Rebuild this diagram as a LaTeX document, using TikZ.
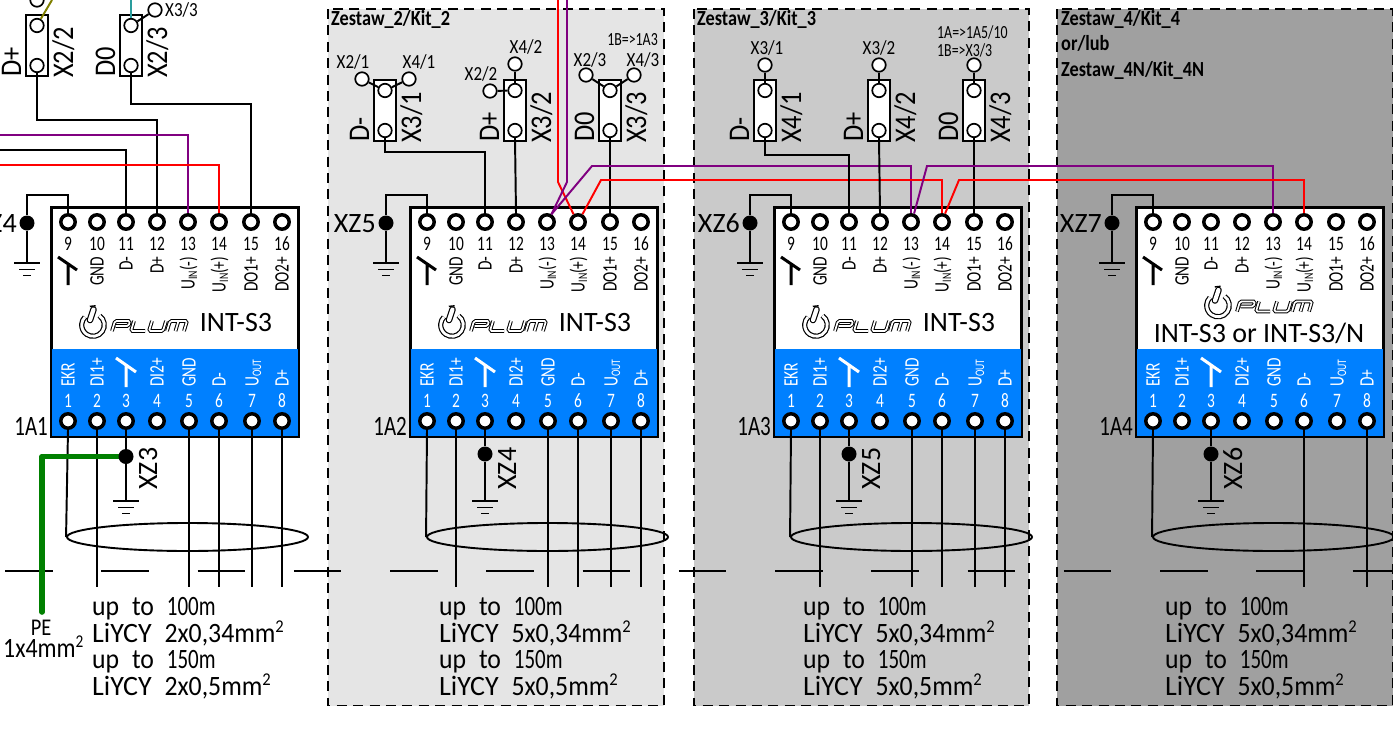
\documentclass[tikz,border=0pt]{standalone}
\usepackage{fontspec}
\setmainfont{Carlito}
\newfontfamily\nf[FakeStretch=.75]{Carlito}
\newfontfamily\mf[FakeStretch=.85]{Carlito}
\newfontfamily\jf[FakeStretch=.88]{Carlito}
\newfontfamily\tf[FakeStretch=.92,WordSpace=2.2]{Carlito}
\usetikzlibrary{shapes.geometric,calc}
\definecolor{mblue}{HTML}{0080FF}
\definecolor{mpur}{HTML}{800080}
\definecolor{mgreen}{HTML}{008000}
\definecolor{molive}{HTML}{808000}
\definecolor{mteal}{HTML}{2A9D9D}
\newcommand\subt[1]{\raisebox{-2.5pt}{\fontsize{13}{13}\selectfont #1}}
\newcommand\sqrd{\smash{\raisebox{9.5pt}{\fontsize{18}{18}\selectfont 2}}}
\tikzset{
 wire/.style={line width=1.95pt,line join=miter},
 redw/.style={wire,red},
 purw/.style={wire,mpur},
 panel/.style={line width=1.9pt,dash pattern=on 10pt off 6.4pt},
 pin/.style={circle,draw,line width=3.5pt,fill=white,minimum size=14.4pt,inner sep=0pt},
 sc/.style={circle,draw,line width=1.7pt,fill=white,minimum size=13.5pt,inner sep=0pt},
 dotn/.style={circle,fill=black,minimum size=15pt,inner sep=0pt},
 jbox/.style={draw,line width=1.8pt,fill=white,minimum width=22pt,minimum height=61pt,inner sep=0pt},
 modbox/.style={draw,line width=1.9pt,fill=white,minimum width=246pt,minimum height=228pt,inner sep=0pt},
 shield/.style={ellipse,draw,line width=1.9pt,minimum width=241pt,minimum height=28pt,inner sep=0pt},
 lab/.style={inner sep=0pt,font=\nf\fontsize{20.5}{20.5}\selectfont},
 smalllab/.style={inner sep=0pt,font=\mf\fontsize{20}{20}\selectfont},
 tinylab/.style={inner sep=0pt,font=\nf\fontsize{18.5}{18.5}\selectfont},
 biglab/.style={inner sep=0pt,font=\jf\fontsize{30}{30}\selectfont},
 reflab/.style={inner sep=0pt,font=\nf\fontsize{28}{28}\selectfont},
 xzlab/.style={inner sep=0pt,font=\fontsize{28}{28}\selectfont},
 txt/.style={inner sep=0pt,font=\tf\fontsize{28}{28}\selectfont},
 intlab/.style={inner sep=0pt,font=\fontsize{28}{28}\selectfont},
 kitlab/.style={inner sep=0pt,font=\mf\bfseries\fontsize{21.5}{21.5}\selectfont},
}
\newcommand\gndsym[2]{%
 \draw[line width=1.8pt] (#1-13,#2) -- (#1+13,#2);
 \draw[line width=1.8pt] (#1-8,#2+6.5) -- (#1+8,#2+6.5);
 \draw[line width=1.8pt] (#1-4,#2+12.5) -- (#1+4,#2+12.5);}
\newcommand\plumstroke[1]{%
 \draw[#1,rounded corners=1.5pt] (0,0) -- (0,10) -- (15,10) -- (15,5) -- (2,5);
 \draw[#1,rounded corners=1.5pt] (19,10) -- (19,0) -- (33,0);
 \draw[#1,rounded corners=1.5pt] (37,10) -- (37,0) -- (51,0) -- (51,10);
 \draw[#1,rounded corners=1.5pt] (55,0) -- (55,10) -- (72,10) -- (72,0);
 \draw[#1] (63.5,9) -- (63.5,0);}
\newcommand\plumlogo[2]{%
 \begin{scope}[shift={(#1,#2)},x=1pt,y=1pt]
 \draw[line width=5.2pt,black] (55:11.3) arc[start angle=55,end angle=-225,radius=11.3];
 \draw[line width=2.8pt,white] (55:11.3) arc[start angle=55,end angle=-225,radius=11.3];
 \draw[line width=6.6pt,black,line cap=round] (-3,5) -- (0.5,15.5);
 \draw[line width=4.2pt,white,line cap=round] (-3,5) -- (0.5,15.5);
 \draw[line width=1.4pt,black] (-3.2,18.6) -- (2.6,19.2);
 \end{scope}
 \begin{scope}[shift={(#1+19,#2+6)},x=1pt,y=1pt,xslant=.3]
  \plumstroke{line width=3.7pt,black}
  \plumstroke{line width=1.7pt,white}
 \end{scope}}
\newcommand\plummod[2]{%
 \begin{scope}[shift={(#2,0)}]
 \node[modbox] (m#1) at (123,322) {};
 \fill[mblue] (0,349) rectangle (246,436);
 \draw[line width=1.9pt] (m#1.north west) rectangle (m#1.south east);
 \foreach \dx/\num in {16/9,45/10,74/11,105/12,136/13,167/14,199/15,230/16}{
   \node[pin] (t#1-\num) at (\dx,222) {};
   \node[lab,anchor=base] (tn#1-\num) at (\dx,250) {\num};
 }
 \foreach \dx/\num in {16/1,45/2,74/3,105/4,137/5,167/6,200/7,230/8}{
   \node[pin] (b#1-\num) at (\dx,421) {};
   \node[lab,text=white,anchor=base] (bn#1-\num) at (\dx,407) {\num};
 }
 \foreach \dx/\num/\lbl in {45/10/GND,74/11/D-,105/12/D+,136/13/{U\subt{IN}(-)},167/14/{U\subt{IN}(+)},199/15/DO1+,230/16/DO2+}{
   \node[lab,rotate=90,anchor=base east] (tl#1-\num) at (\dx+6.5,256.5) {\lbl};
 }
 \foreach \dx/\num/\lbl in {16/1/EKR,45/2/DI1+,105/4/DI2+,137/5/GND,167/6/D-,200/7/{U\subt{OUT}},230/8/D+}{
   \node[lab,text=white,rotate=90,anchor=base west] (bl#1-\num) at (\dx+6.5,387) {\lbl};
 }
 \draw[line width=3pt] (6,257) -- (25,270) (16,264) -- (16,285);
 \draw[line width=3pt,white] (64,358) -- (84,372) (74,365) -- (74,387);
 \node[reflab,anchor=base east] (r#1) at (-4,435) {1A#1};
 \end{scope}}
\newcommand\xconn[5]{%
 \node[jbox] (j#1) at (#2,#3) {};
 \node[sc] (j#1t) at (#2,#3-20) {};
 \node[sc] (j#1b) at (#2,#3+20) {};
 \node[biglab,rotate=90,anchor=base west] (js#1) at (#2-16,#3+31.5) {#4};
 \node[biglab,rotate=90,anchor=base west] (jl#1) at (#2+36,#3+32.5) {#5};}
\newcommand\cabletext[3]{%
 \node[txt,anchor=base west] (ca#1) at (#2,615) {up to {\nf 100m}};
 \node[txt,anchor=base west] (cb#1) at (#2,642) {{\rmfamily LiYCY} #3x0,34mm\sqrd};
 \node[txt,anchor=base west] (cc#1) at (#2,668) {up to {\nf 150m}};
 \node[txt,anchor=base west] (cd#1) at (#2,695) {{\rmfamily LiYCY} #3x0,5mm\sqrd};}
\begin{document}
\begin{tikzpicture}[x=1pt,y=-1pt]
\useasboundingbox (0,0) rectangle (1393,731);
\fill[white] (0,0) rectangle (1393,731);
\draw[panel,fill=black!10.2] (328,9) rectangle (664,705.5);
\draw[panel,fill=black!20.8] (694,9) rectangle (1029,705.5);
\draw[panel,fill=black!37.3] (1057,9) rectangle (1393,705.5);
\node[kitlab,anchor=base west] (k2) at (331,25) {Zestaw\_2/Kit\_2};
\node[kitlab,anchor=base west] (k3) at (697,25) {Zestaw\_3/Kit\_3};
\node[kitlab,anchor=base west] (k4a) at (1061,25) {Zestaw\_4/Kit\_4};
\node[kitlab,anchor=base west] (k4b) at (1061,50) {or/lub};
\node[kitlab,anchor=base west] (k4c) at (1061,76) {Zestaw\_4N/Kit\_4N};
\plummod{1}{52}
\plummod{2}{411}
\plummod{3}{775}
\plummod{4}{1137}
\plumlogo{93}{325}
\plumlogo{452}{325}
\plumlogo{816}{325}
\plumlogo{1218}{305.5}
\node[intlab,anchor=base] (i1) at (236,331) {INT-S3};
\node[intlab,anchor=base] (i2) at (595,331) {INT-S3};
\node[intlab,anchor=base] (i3) at (959,331) {INT-S3};
\node[intlab,anchor=base] (i4) at (1259,342) {INT-S3 or INT-S3/N};
\xconn{a}{37}{45.5}{D+}{X2/2}
\xconn{b}{131}{45.5}{D0}{X2/3}
\xconn{c}{385}{110.5}{D-}{X3/1}
\xconn{d}{515}{110.5}{D+}{X3/2}
\xconn{e}{610}{110.5}{D0}{X3/3}
\xconn{f}{765}{110.5}{D-}{X4/1}
\xconn{g}{879}{110.5}{D+}{X4/2}
\xconn{h}{974}{110.5}{D0}{X4/3}
\node[sc] (oa) at (37,0) {};
\node[sc] (ob) at (155,10) {};
\node[sc] (oc1) at (362,79) {};
\node[sc] (oc2) at (409,79) {};
\node[sc] (od1) at (490,91) {};
\node[sc] (od2) at (515,64) {};
\node[sc] (oe1) at (586,75) {};
\node[sc] (oe2) at (634,75) {};
\node[sc] (of) at (765,65) {};
\node[sc] (og) at (879,65) {};
\node[sc] (oh) at (974,65) {};
\draw[wire] (ob) -- (jbt);
\draw[wire] (oc1) -- (jct);
\draw[wire] (oc2) -- (jct);
\draw[wire] (od1) -- (jdt);
\draw[wire] (od2) -- (jdt);
\draw[wire] (oe1) -- (jet);
\draw[wire] (oe2) -- (jet);
\draw[wire] (of) -- (jft);
\draw[wire] (og) -- (jgt);
\draw[wire] (oh) -- (jht);
\coordinate (olv) at (52,0);
\coordinate (tel) at (131,0);
\draw[wire,molive] (jat.60) -- (olv);
\draw[wire,mteal] (jbt.north) -- (tel);
\node[smalllab,anchor=west] (lb) at (165,10) {X3/3};
\node[smalllab] (l1) at (353,62) {X2/1};
\node[smalllab] (l2) at (419,62) {X4/1};
\node[smalllab] (l3) at (481,74) {X2/2};
\node[smalllab] (l4) at (526,47) {X4/2};
\node[smalllab] (l5) at (590,60) {X2/3};
\node[smalllab] (l6) at (643,60) {X4/3};
\node[tinylab,anchor=east] (l7) at (658,40) {1B=>1A3};
\node[smalllab] (l8) at (767,48) {X3/1};
\node[smalllab] (l9) at (879,48) {X3/2};
\node[tinylab,anchor=west] (l10) at (937,32) {1A=>1A5/10};
\node[tinylab,anchor=west] (l11) at (937,50) {1B=>X3/3};
\coordinate (y104) at (0,104);
\coordinate (y120) at (0,120);
\coordinate (y152) at (0,152);
\coordinate (y155) at (0,155);
\coordinate (yend) at (0,587);
\coordinate (lp) at (0,135);
\coordinate (lk) at (0,150);
\coordinate (lr) at (0,165);
\draw[wire] (jab.south) -- (jab.south |- y120) -| (t1-12.north);
\draw[wire] (jbb.south) -- (jbb.south |- y104) -| (t1-15.north);
\draw[purw] (lp) -| (t1-13.north);
\draw[wire] (lk) -| (t1-11.north);
\draw[redw] (lr) -| (t1-14.north);
\draw[wire] (jcb.south) -- (jcb.south |- y152) -| (t2-11.north);
\draw[wire] (jdb.south) -- (t2-12.north);
\draw[wire] (jeb.south) -- (t2-15.north);
\coordinate (ri0) at (558,0);
\coordinate (ri1) at (558,182);
\coordinate (pi0) at (567,0);
\coordinate (pi1) at (567,182);
\draw[redw] (ri0) -- (ri1) -- (t2-14.120);
\draw[purw] (pi0) -- (pi1) -- (t2-13.60);
\coordinate (pa) at (592,166);
\coordinate (ra) at (601,180);
\coordinate (pb) at (927,166);
\coordinate (rb) at (959,180);
\draw[purw] (t2-13.60) -- (pa) -| (t3-13.north);
\draw[redw] (t2-14.60) -- (ra) -| (t3-14.north);
\draw[wire] (jfb.south) -- (jfb.south |- y155) -| (t3-11.north);
\draw[wire] (jgb.south) -- (t3-12.north);
\draw[wire] (jhb.south) -- (t3-15.north);
\draw[purw] (t3-13.70) -- (pb) -| (t4-13.north);
\draw[redw] (t3-14.70) -- (rb) -| (t4-14.north);
\foreach \m/\x in {1/27,2/386,3/750,4/1112}{
 \node[dotn] (top\m) at (\x,223) {};
 \coordinate (cs\m) at (\x,195);
 \coordinate (gs\m) at (\x,263);
 \draw[wire] (t\m-9.north) |- (cs\m) -- (top\m) -- (gs\m);
 \gndsym{\x}{263}
 \node[xzlab,anchor=base east] (xt\m) at (\x-10,232) {XZ\the\numexpr\m+3\relax};
}
\coordinate (gc) at (42,612);
\draw[wire] (b1-2.south) -- (b1-2.south |- yend);
\draw[wire] (b1-5.south) -- (b1-5.south |- yend);
\draw[wire] (b1-6.south) -- (b1-6.south |- yend);
\draw[wire] (b1-7.south) -- (b1-7.south |- yend);
\draw[wire] (b1-8.south) -- (b1-8.south |- yend);
\draw[wire] (b2-2.south) -- (b2-2.south |- yend);
\draw[wire] (b2-5.south) -- (b2-5.south |- yend);
\draw[wire] (b2-6.south) -- (b2-6.south |- yend);
\draw[wire] (b2-7.south) -- (b2-7.south |- yend);
\draw[wire] (b2-8.south) -- (b2-8.south |- yend);
\draw[wire] (b3-2.south) -- (b3-2.south |- yend);
\draw[wire] (b3-5.south) -- (b3-5.south |- yend);
\draw[wire] (b3-6.south) -- (b3-6.south |- yend);
\draw[wire] (b3-7.south) -- (b3-7.south |- yend);
\draw[wire] (b3-8.south) -- (b3-8.south |- yend);
\draw[wire] (b4-6.south) -- (b4-6.south |- yend);
\draw[wire] (b4-8.south) -- (b4-8.south |- yend);
\node[shield] (s1) at (187.5,537) {};
\node[shield] (s2) at (547.5,537) {};
\node[shield] (s3) at (911.5,537) {};
\node[shield] (s4) at (1273.5,537) {};
\draw[wire] (b1-1.south) -- (s1.west);
\draw[wire] (b2-1.south) -- (s2.west);
\draw[wire] (b3-1.south) -- (s3.west);
\draw[wire] (b4-1.south) -- (s4.west);
\coordinate (bl0) at (5,571);
\coordinate (bl1) at (1393,571);
\draw[line width=1.9pt,dash pattern=on 47.5pt off 48.75pt] (bl0) -- (bl1);
\coordinate (gb1) at (126,501);
\coordinate (gb2) at (485,501);
\coordinate (gb3) at (849,501);
\coordinate (gb4) at (1211,501);
\coordinate (ga) at (126,456.5);
\draw[line width=5.6pt,mgreen,line cap=round,line join=round] (gc) |- (ga);
\foreach \m/\x/\y in {1/126/456.5,2/485/454,3/849/454,4/1211/454}{
 \node[dotn] (e\m) at (\x,\y) {};
 \draw[wire] (b\m-3.south) -- (e\m) -- (gb\m);
 \gndsym{\x}{501}
 \node[xzlab,rotate=90,anchor=base east] (xb\m) at (\x+31,447.5) {XZ\the\numexpr\m+2\relax};
}
\cabletext{1}{92}{2}
\cabletext{2}{439}{5}
\cabletext{3}{803}{5}
\cabletext{4}{1165}{5}
\node[inner sep=0pt,font=\mf\fontsize{24}{24}\selectfont] (pe) at (41,628) {PE};
\node[inner sep=0pt,anchor=base west,font=\mf\fontsize{28}{28}\selectfont] (pe2) at (3,657) {1x4mm\sqrd};
\end{tikzpicture}
\end{document}
